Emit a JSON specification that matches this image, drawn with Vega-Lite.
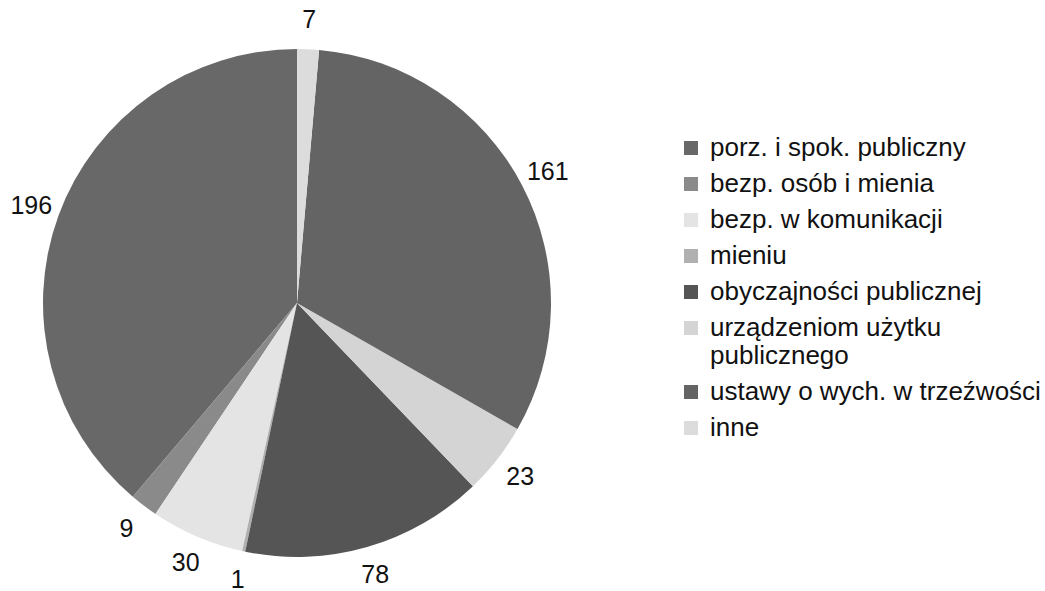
{
  "$schema": "https://vega.github.io/schema/vega-lite/v6.json",
  "width": 594,
  "height": 606,
  "padding": 0,
  "autosize": {"type": "pad"},
  "background": "white",
  "config": {"view": {"stroke": null}, "font": "Liberation Sans"},
  "data": {
    "values": [
      {"category": "porz. i spok. publiczny", "value": 196, "rank": 8},
      {"category": "bezp. osób i mienia", "value": 9, "rank": 7},
      {"category": "bezp. w komunikacji", "value": 30, "rank": 6},
      {"category": "mieniu", "value": 1, "rank": 5},
      {"category": "obyczajności publicznej", "value": 78, "rank": 4},
      {"category": "urządzeniom użytku publicznego", "value": 23, "rank": 3},
      {"category": "ustawy o wych. w trzeźwości", "value": 161, "rank": 2},
      {"category": "inne", "value": 7, "rank": 1}
    ]
  },
  "encoding": {
    "theta": {"field": "value", "type": "quantitative", "stack": true},
    "order": {"field": "rank", "type": "quantitative"}
  },
  "layer": [
    {
      "mark": {"type": "arc", "outerRadius": 254, "stroke": null},
      "encoding": {
        "color": {
          "field": "category",
          "type": "nominal",
          "scale": {
            "domain": ["porz. i spok. publiczny", "bezp. osób i mienia", "bezp. w komunikacji", "mieniu", "obyczajności publicznej", "urządzeniom użytku publicznego", "ustawy o wych. w trzeźwości", "inne"],
            "range": ["#686868", "#8a8a8a", "#e4e4e4", "#b0b0b0", "#555555", "#d4d4d4", "#646464", "#dcdcdc"]
          },
          "legend": {
            "title": null,
            "orient": "none",
            "legendX": 678,
            "legendY": 135,
            "padding": 0,
            "symbolType": "square",
            "symbolSize": 196,
            "symbolStrokeWidth": 0,
            "symbolOpacity": 1,
            "labelFontSize": 26,
            "labelFont": "Liberation Sans",
            "labelColor": "#111111",
            "labelOffset": 6,
            "labelLimit": 500,
            "rowPadding": 10,
            "labelExpr": "datum.label == 'urządzeniom użytku publicznego' ? ['urządzeniom użytku', 'publicznego'] : datum.label"
          }
        }
      }
    },
    {
      "mark": {"type": "text", "radius": 283, "fontSize": 25, "font": "Liberation Sans", "color": "#111111"},
      "encoding": {
        "text": {"field": "value", "type": "quantitative"},
        "detail": {"field": "category", "type": "nominal"}
      }
    }
  ]
}
